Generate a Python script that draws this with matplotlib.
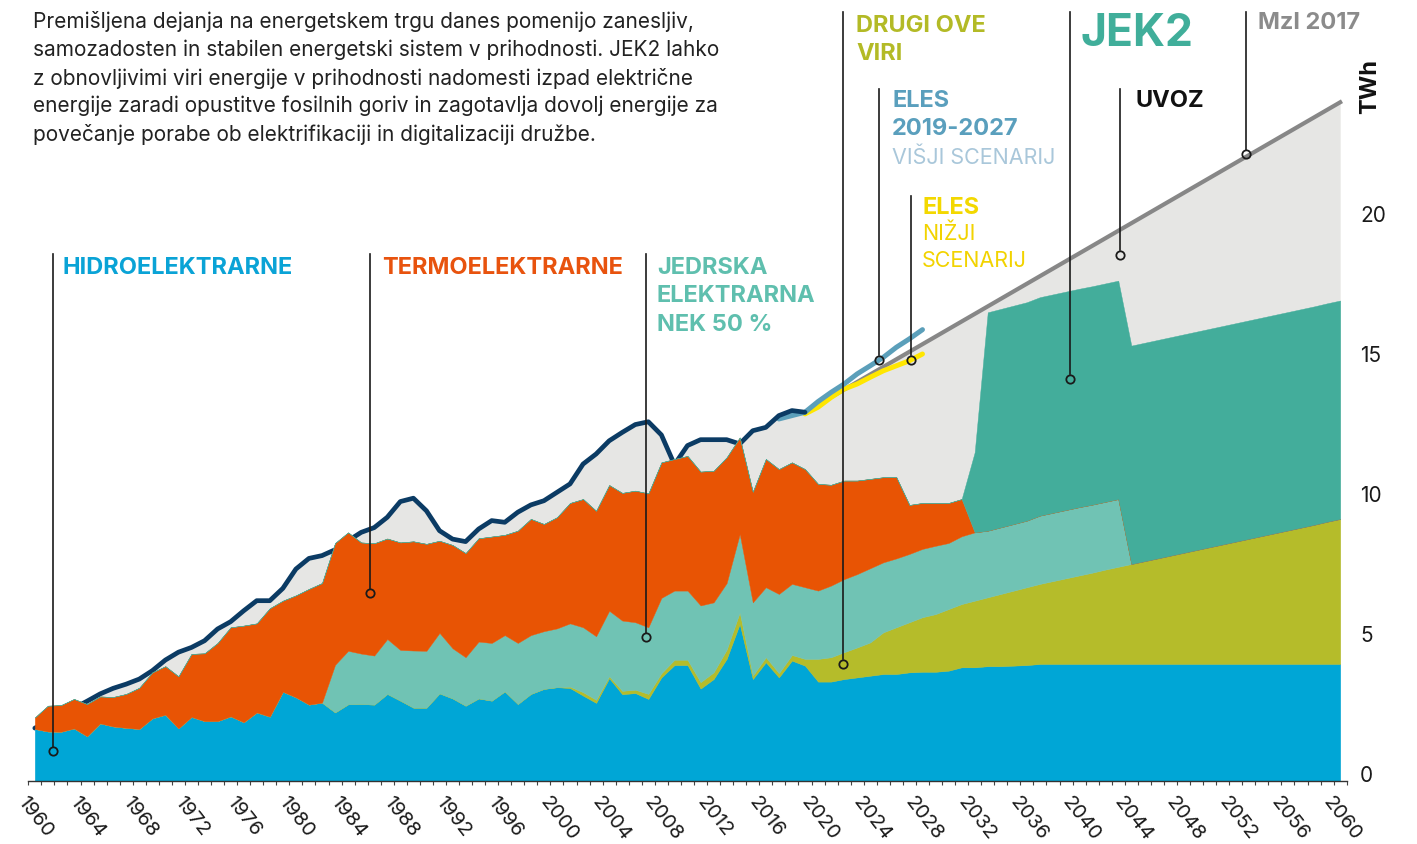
import numpy as np
import matplotlib
matplotlib.use("Agg")
import matplotlib.pyplot as plt
import matplotlib.transforms as mtransforms

plt.rcParams['font.family'] = ['Inter', 'DejaVu Sans']

# --- data (TWh) ---
years = np.arange(1960, 2061)

hydro = [1.86, 1.77, 1.76, 1.88, 1.60, 2.06, 1.95, 1.90, 1.86, 2.24,
         2.37, 1.88, 2.29, 2.14, 2.14, 2.31, 2.10, 2.45, 2.30, 3.19,
         2.99, 2.73, 2.80, 2.45, 2.74, 2.75, 2.73, 3.11, 2.87, 2.62,
         2.62, 3.13, 2.95, 2.69, 2.95, 2.87, 3.20, 2.75, 3.11, 3.29,
         3.35, 3.32, 3.05, 2.79, 3.67, 3.10, 3.14, 2.93, 3.70, 4.14,
         4.14, 3.30, 3.64, 4.36, 5.61, 3.64, 4.24, 3.70, 4.30, 4.12,
         3.55, 3.55, 3.64, 3.70, 3.76, 3.82, 3.82, 3.88, 3.90, 3.90,
         3.94, 4.06, 4.06, 4.10, 4.10, 4.12, 4.14, 4.18, 4.18, 4.18,
         4.18, 4.18, 4.18, 4.18, 4.18, 4.18, 4.18, 4.18, 4.18, 4.18,
         4.18, 4.18, 4.18, 4.18, 4.18, 4.18, 4.18, 4.18, 4.18, 4.18,
         4.18]

# drugi OVE viri (other renewables)
ove = [0] * 41 + [
    0.05, 0.12, 0.11, 0.07, 0.12, 0.12, 0.18, 0.15, 0.19,
    0.19, 0.23, 0.24, 0.33, 0.41, 0.12, 0.18, 0.15, 0.20, 0.24,
    0.81, 0.87, 0.96, 1.07, 1.19, 1.49, 1.67, 1.79, 1.95, 2.06,
    2.20, 2.26, 2.38, 2.46, 2.58, 2.68, 2.78, 2.86, 2.96, 3.06,
    3.16, 3.26, 3.37, 3.47, 3.57, 3.67, 3.77, 3.87, 3.97, 4.07,
    4.17, 4.27, 4.37, 4.47, 4.57, 4.67, 4.77, 4.87, 4.97, 5.08,
    5.18]

# NEK 50 %
nek = [0] * 23 + [
    1.70, 1.91, 1.80, 1.75, 1.96, 1.81, 2.04,
    2.03, 2.16, 1.79, 1.73, 2.03, 2.06, 2.01, 2.18, 2.10, 2.06,
    2.10, 2.26, 2.32, 2.27, 2.34, 2.51, 2.41, 2.38, 2.69, 2.47,
    2.47, 2.74, 2.50, 2.38, 2.80, 2.62, 2.50, 2.83, 2.54, 2.56,
    2.44, 2.56, 2.61, 2.62, 2.65, 2.50, 2.46, 2.44, 2.44, 2.44,
    2.36, 2.42, 2.44, 2.38, 2.38, 2.38, 2.38, 2.44, 2.44, 2.44,
    2.44, 2.43, 2.42, 2.42] + [0] * 17

thermal = [0.41, 0.92, 0.95, 1.05, 1.15, 0.96, 1.05, 1.21, 1.47, 1.64,
           1.73, 1.86, 2.25, 2.42, 2.79, 3.18, 3.45, 3.18, 3.87, 3.25,
           3.64, 4.13, 4.27, 4.35, 4.23, 3.97, 4.01, 3.59, 3.84, 3.90,
           3.82, 3.29, 3.69, 3.72, 3.69, 3.80, 3.58, 4.01, 4.15, 3.83,
           3.97, 4.30, 4.58, 4.48, 4.49, 4.56, 4.70, 4.78, 4.84, 4.70,
           4.81, 4.78, 4.70, 4.49, 3.45, 3.95, 4.58, 4.46, 4.34, 4.22,
           3.81, 3.60, 3.52, 3.34, 3.19, 3.04, 2.90, 1.75, 1.64, 1.53,
           1.43, 1.33] + [0] * 29

jek2 = [0] * 72 + [2.86] + [7.8] * 28

# poraba (consumption) 1960-2019
cons_years = np.arange(1960, 2020)
consumption = [1.89, 2.10, 2.35, 2.60, 2.85, 3.11, 3.31, 3.46, 3.64, 3.94,
               4.32, 4.60, 4.77, 5.01, 5.43, 5.69, 6.08, 6.44, 6.44, 6.88,
               7.57, 7.95, 8.05, 8.26, 8.58, 8.88, 9.05, 9.42, 9.98, 10.10,
               9.65, 8.94, 8.64, 8.55, 9.00, 9.30, 9.24, 9.60, 9.86, 10.01,
               10.31, 10.61, 11.32, 11.68, 12.15, 12.45, 12.73, 12.83, 12.36, 11.30,
               11.98, 12.19, 12.19, 12.19, 12.04, 12.51, 12.63, 13.05, 13.23, 13.17]

# Mzl 2017 projection 2019-2060
mzl_years = np.arange(2019, 2061)
mzl = [13.17, 13.44, 13.71, 13.98, 14.25, 14.52, 14.79, 15.06, 15.33, 15.60,
       15.87, 16.14, 16.41, 16.68, 16.95, 17.22, 17.49, 17.76, 18.03, 18.30,
       18.57, 18.84, 19.11, 19.38, 19.65, 19.92, 20.19, 20.46, 20.73, 21.00,
       21.27, 21.54, 21.81, 22.08, 22.35, 22.62, 22.89, 23.16, 23.43, 23.70,
       23.97, 24.24]

eles_high_years = np.arange(2017, 2029)
eles_high = [12.93, 13.05, 13.17, 13.55, 13.88, 14.18, 14.54, 14.83, 15.13, 15.49, 15.79, 16.12]
eles_low_years = np.arange(2019, 2029)
eles_low = [13.11, 13.35, 13.70, 14.00, 14.18, 14.42, 14.65, 14.83, 15.01, 15.25]

ytick_vals = [0, 5, 10, 15, 20]

intro = ("Premišljena dejanja na energetskem trgu danes pomenijo zanesljiv,\n"
         "samozadosten in stabilen energetski sistem v prihodnosti. JEK2 lahko\n"
         "z obnovljivimi viri energije v prihodnosti nadomesti izpad električne\n"
         "energije zaradi opustitve fosilnih goriv in zagotavlja dovolj energije za\n"
         "povečanje porabe ob elektrifikaciji in digitalizaciji družbe.")

# colours
c_hydro = '#00a6d6'
c_ove = '#b5bc2a'
c_nek = '#70c3b4'
c_thermal = '#e85404'
c_jek2 = '#43ad9b'
c_gray = '#e6e6e4'

# --- figure ---
fig = plt.figure(figsize=(14.17, 8.45), dpi=100)
ax = fig.add_axes([28.3 / 1417, 63 / 845, 1318.4 / 1417, 700 / 845])
ax.set_xlim(1959.5, 2060.5)
ax.set_ylim(0, 25)

# import / demand area (up to consumption, then up to Mzl 2017)
upper = np.concatenate([consumption[:-1], mzl])
ax.fill_between(years, 0, upper, color=c_gray, lw=0, zorder=1)

ax.plot(mzl_years, mzl, color='#878787', lw=3, zorder=2)
ax.plot(eles_low_years, eles_low, color='#ffe600', lw=3.6, zorder=2.2, solid_capstyle='round')
ax.plot(eles_high_years, eles_high, color='#5b9fba', lw=3.6, zorder=2.3, solid_capstyle='round')
ax.plot(cons_years, consumption, color='#0b3b64', lw=3.4, zorder=2.5, solid_capstyle='round')

ax.stackplot(years, hydro, ove, nek, thermal, jek2,
             colors=[c_hydro, c_ove, c_nek, c_thermal, c_jek2],
             edgecolor='face', linewidth=0.3, zorder=3)

# axes styling
for s in ['top', 'left', 'right']:
    ax.spines[s].set_visible(False)
ax.spines['bottom'].set_color('#333333')
ax.spines['bottom'].set_linewidth(1.0)
ax.spines['bottom'].set_zorder(4)

tick_pos = np.arange(1959.5, 2061, 1.0)
tick_lab = [str(int(t + 0.5)) if (t + 0.5) % 4 == 0 and t < 2060.5 else '' for t in tick_pos]
ax.set_xticks(tick_pos)
ax.set_xticklabels(tick_lab, rotation=-52, ha='left', va='top', rotation_mode='anchor')
ax.tick_params(axis='x', direction='out', length=3, width=0.8, color='#444444',
               pad=5, labelsize=14.5, labelcolor='#1a1a1a')
ax.set_yticks([])

trans = mtransforms.blended_transform_factory(ax.transAxes, ax.transData)
for v in ytick_vals:
    ax.text(1.0101, v, str(v), transform=trans, ha='left', va='baseline',
            fontsize=15, color='#1a1a1a')

fig.text(1370 / 1417, 1 - 86 / 845, 'TWh', rotation=90, ha='center', va='center',
         fontsize=17, fontweight='bold', color='#111111')

fig.text(33 / 1417, 1 - 11 / 845, intro, ha='left', va='top', fontsize=15,
         linespacing=1.45, color='#222222')

# pointer lines: (x, top, circle)
pointers = [(1961.43, 18.82, 1.07), (1985.67, 18.82, 6.71), (2006.82, 18.82, 5.14),
            (2021.92, 27.46, 4.18), (2024.67, 24.71, 15.04), (2027.13, 20.89, 15.04),
            (2039.31, 27.46, 14.36), (2043.14, 24.71, 18.79), (2052.80, 27.46, 22.39)]
for px, top, cy in pointers:
    ax.plot([px, px], [top, cy + 0.16], color='#1a1a1a', lw=1.2, zorder=6, clip_on=False)
    ax.plot(px, cy, 'o', ms=6, mfc='none', mec='#1a1a1a', mew=1.3, zorder=6, clip_on=False)

# labels: (x, baseline, text, colour, weight, size)
labels = [
    (1962.15, 18.16, 'HIDROELEKTRARNE', '#0aa3d6', 'bold', 17),
    (1986.59, 18.16, 'TERMOELEKTRARNE', '#e8530e', 'bold', 17),
    (2007.66, 18.16, 'JEDRSKA', '#5fbfae', 'bold', 17),
    (2007.66, 17.13, 'ELEKTRARNA', '#5fbfae', 'bold', 17),
    (2007.66, 16.09, 'NEK 50 %', '#5fbfae', 'bold', 17),
    (2022.91, 26.80, 'DRUGI OVE', '#b3ba26', 'bold', 17),
    (2022.91, 25.77, 'VIRI', '#b3ba26', 'bold', 17),
    (2025.67, 24.09, 'ELES', '#5a9fbd', 'bold', 17),
    (2025.67, 23.09, '2019-2027', '#5a9fbd', 'bold', 17),
    (2025.67, 22.07, 'VIŠJI SCENARIJ', '#a9c7da', 'normal', 15.5),
    (2027.97, 20.30, 'ELES', '#f3d800', 'bold', 17),
    (2027.97, 19.36, 'NIŽJI', '#f2d300', 'normal', 15.5),
    (2027.97, 18.39, 'SCENARIJ', '#f2d300', 'normal', 15.5),
    (2040.08, 26.29, 'JEK2', '#40ae9a', 'bold', 32),
    (2044.29, 24.09, 'UVOZ', '#111111', 'bold', 17),
    (2053.72, 26.88, 'Mzl 2017', '#8b8b8b', 'bold', 17),
]
for lx, ly, txt, col, w, sz in labels:
    ax.text(lx, ly, txt, color=col, fontweight=w, fontsize=sz, ha='left',
            va='baseline', zorder=7, clip_on=False)

fig.savefig('out.png', dpi=100)
